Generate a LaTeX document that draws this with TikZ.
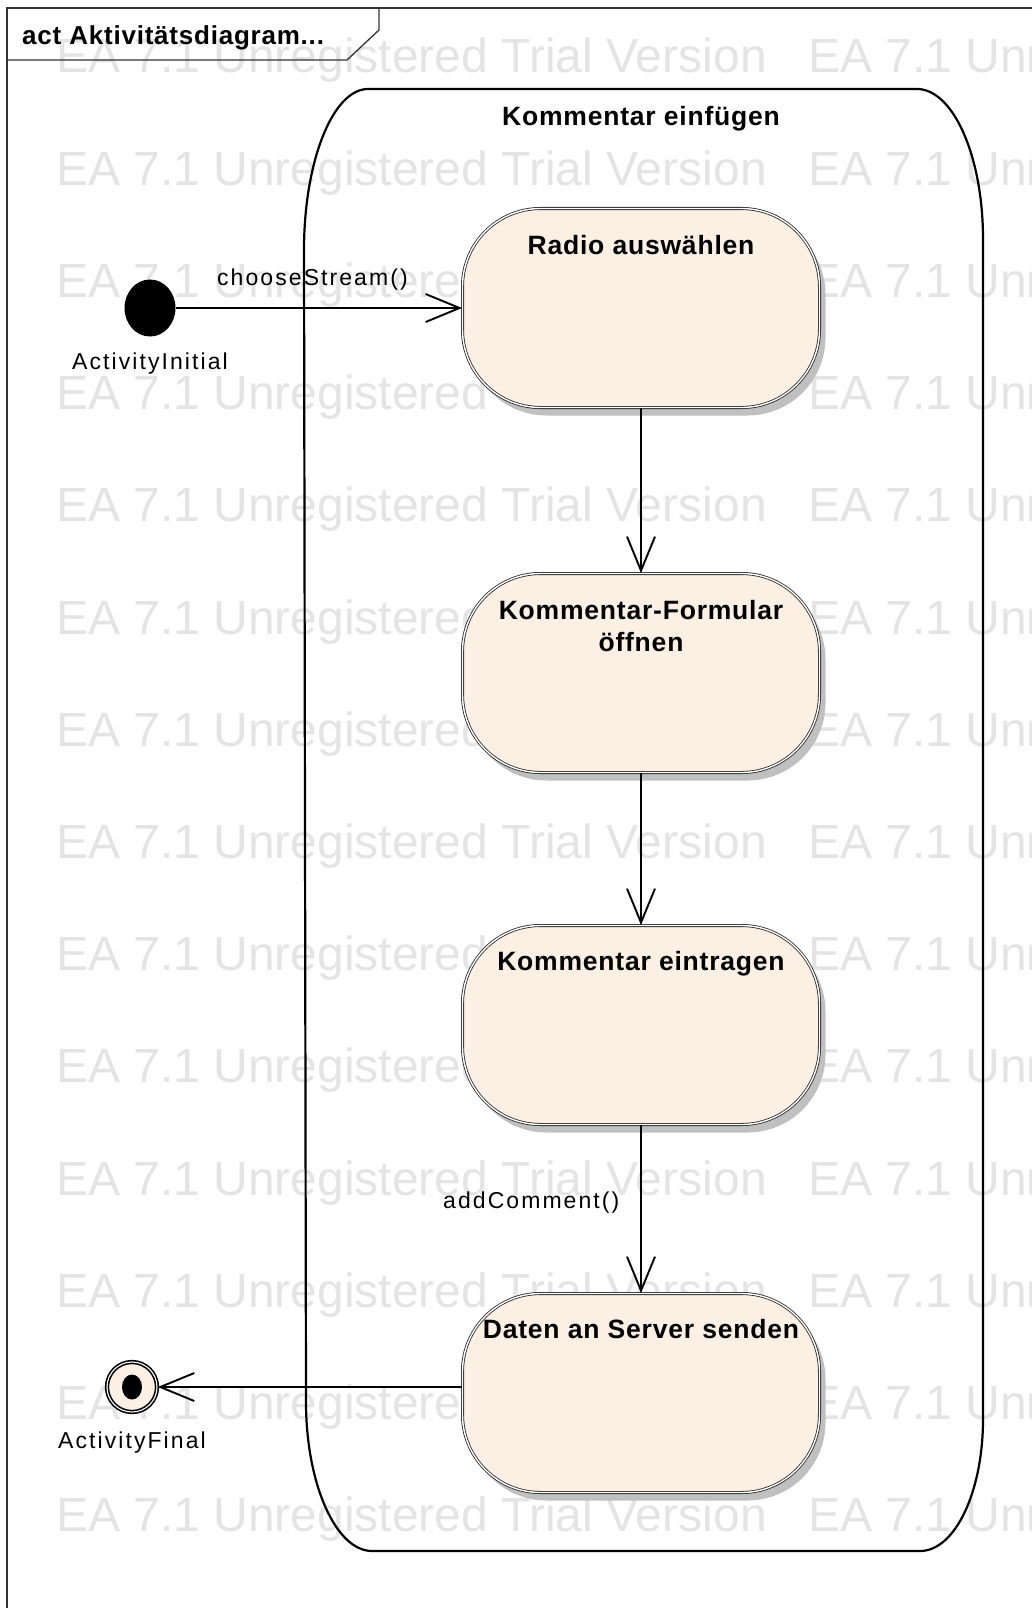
\documentclass[tikz,border=0pt]{standalone}
\usepackage{fontspec}
\setmainfont{Liberation Sans}
\newfontfamily\lblfont[LetterSpace=9]{Liberation Sans}
\newfontfamily\boldfont[LetterSpace=3]{Liberation Sans}
\usepackage{tikz}
\usetikzlibrary{shapes.geometric, arrows.meta, positioning, shadows}
\definecolor{actfill}{RGB}{251,240,227}
\definecolor{shadowgray}{RGB}{192,192,192}
\definecolor{wmgray}{RGB}{228,228,228}
\tikzstyle{action} = [rectangle, rounded corners=78pt, minimum width=357pt, minimum height=199pt, draw=black!85, line width=0.8pt, double=white, double distance=1.4pt, fill=actfill, drop shadow={shadow xshift=6pt, shadow yshift=-8pt, fill=shadowgray, opacity=1}]
\tikzstyle{acttext} = [font=\boldfont\bfseries\fontsize{26.5}{32}\selectfont, align=center, inner sep=0pt, anchor=north]
\tikzstyle{lbl} = [font=\lblfont\fontsize{23}{27}\selectfont, inner sep=0pt]
\tikzstyle{initnode} = [ellipse, minimum width=51pt, minimum height=57pt, fill=black, inner sep=0pt]
\tikzstyle{finalnode} = [circle, minimum size=50pt, draw=black, line width=1.6pt, double=white, double distance=1.1pt, fill=actfill, inner sep=0pt]
\tikzstyle{finaldot} = [ellipse, minimum width=20pt, minimum height=25pt, fill=black, inner sep=0pt]
\tikzstyle{arrow} = [line width=1.9pt, -{Straight Barb[length=34pt, width=28pt]}]
\tikzstyle{frame} = [line width=1.3pt, black!80]
\tikzstyle{wm} = [font=\fontsize{48}{48}\selectfont, text=wmgray, inner sep=0pt, anchor=base west]

\begin{document}
\begin{tikzpicture}[x=1pt, y=-1pt]
\useasboundingbox (0,0) rectangle (1032,1608);
\clip (0,0) rectangle (1032,1608);

% Wasserzeichen
\foreach \k in {0,...,14} {
  \node[wm] (wma\k) at (56,{73+112.2*\k}) {EA 7.1 Unregistered Trial Version};
  \node[wm] (wmb\k) at (808,{73+112.2*\k}) {EA 7.1 Unregistered Trial Version};
}

% Rahmen
\draw[frame] (7,1620) -- (7,8) -- (1040,8);
\draw[frame] (7,60) -- (347,60) -- (379,30) -- (379,8);
\node[anchor=base west, inner sep=0pt, font=\boldfont\bfseries\fontsize{26}{30}\selectfont] (title) at (22,45) {act Aktivitätsdiagram...};

% Aktivität
\draw[line width=2.2pt] (368,89) -- (917,89) .. controls (953,89) and (983,156) .. (983,239) -- (983,1419) .. controls (983,1492) and (955,1551) .. (920,1551) -- (372,1551) .. controls (336,1551) and (306,1484) .. (306,1402) -- (304,250) .. controls (304,161) and (333,89) .. cycle;
\node[anchor=base, inner sep=0pt, font=\boldfont\bfseries\fontsize{26.5}{32}\selectfont] (kom) at (641,126) {Kommentar einfügen};

% Knoten
\node[initnode] (init) at (150,308) {};
\node[action] (radio) at (641,308) {};
\node[action] (formular) at (641,673) {};
\node[action] (eintragen) at (641,1025) {};
\node[action] (senden) at (641,1393) {};
\node[finalnode] (final) at (132,1387) {};
\node[finaldot] (finaldot) at (final) {};

% Texte der Aktionen
\node[acttext] (radiot) at ([yshift=-27pt]radio.north) {Radio auswählen};
\node[acttext] (formulart) at ([yshift=-27pt]formular.north) {Kommentar-Formular\\öffnen};
\node[acttext] (eintragent) at ([yshift=-26pt]eintragen.north) {Kommentar eintragen};
\node[acttext] (sendent) at ([yshift=-26pt]senden.north) {Daten an Server senden};

% Pfeile
\draw[arrow] (init) -- (radio);
\draw[arrow] (radio) -- (formular);
\draw[arrow] (formular) -- (eintragen);
\draw[arrow] (eintragen) -- (senden);
\draw[arrow] (senden.west |- final) -- (final);

% Beschriftungen
\node[lbl, anchor=base west] (choose) at (217,285) {chooseStream()};
\node[lbl, below=16pt of init] (initlbl) {ActivityInitial};
\node[lbl, anchor=base west] (addc) at (443,1208) {addComment()};
\node[lbl, below=19pt of final] (finallbl) {ActivityFinal};

\end{tikzpicture}
\end{document}
